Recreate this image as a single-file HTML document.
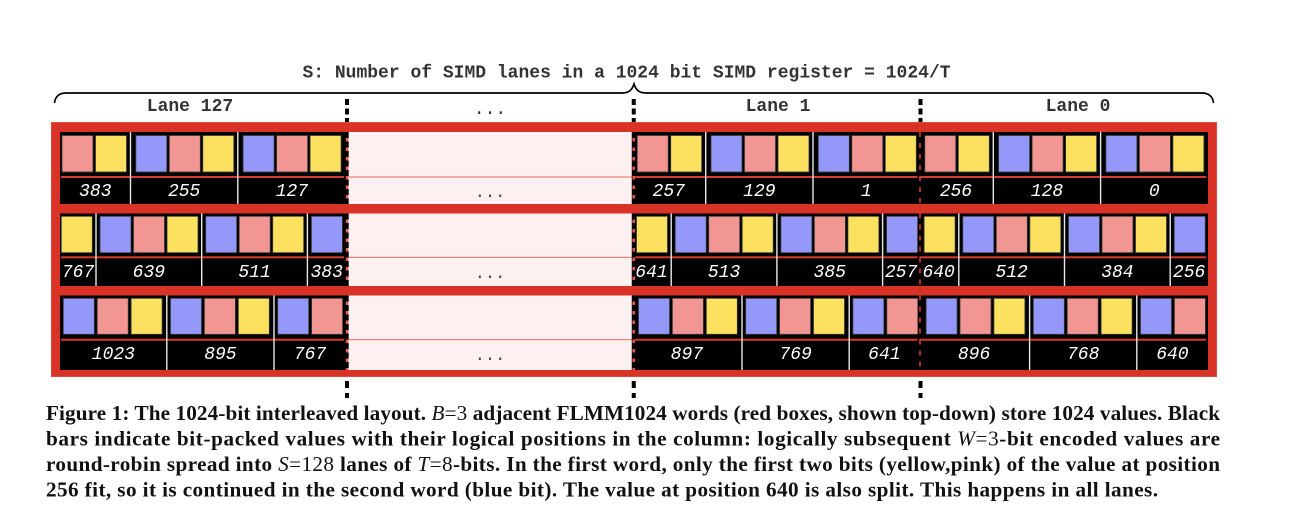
<!DOCTYPE html>
<html>
<head>
<meta charset="utf-8">
<style>
html,body{margin:0;padding:0;background:#fff;}
svg{display:block;}
.mono{font-family:"Liberation Mono",monospace;}
.cap{font-family:"Liberation Serif",serif;font-weight:bold;font-size:21.2px;fill:#111;}
.cap .m{font-style:italic;font-weight:normal;}
.cap .n{font-weight:normal;}
</style>
</head>
<body>
<svg id="fig" width="1313" height="511" viewBox="0 0 1313 511" xmlns="http://www.w3.org/2000/svg">
  <text class="mono" x="626.5" y="77.5" text-anchor="middle" font-size="18" font-weight="bold" fill="#333">S: Number of SIMD lanes in a 1024 bit SIMD register = 1024/T</text>
  <path d="M54.5 103 C55 97 59 93 66 93 L622 93 C629 93 632 90 634 84 C636 90 639 93 646 93 L1202 93 C1209 93 1213 97 1213.5 103" fill="none" stroke="#000" stroke-width="1.7"/>
  <text class="mono" x="190" y="111" text-anchor="middle" font-size="18" font-weight="bold" fill="#333">Lane 127</text>
  <text class="mono" x="490" y="114" text-anchor="middle" font-size="18" fill="#333">...</text>
  <text class="mono" x="778" y="111" text-anchor="middle" font-size="18" font-weight="bold" fill="#333">Lane 1</text>
  <text class="mono" x="1078" y="111" text-anchor="middle" font-size="18" font-weight="bold" fill="#333">Lane 0</text>
  <rect x="51.5" y="122.5" width="1165" height="254" fill="#d93226" stroke="#e2483e" stroke-width="1"/>
  <g id="rows"></g>
  <g id="dividers"></g>
  <g class="cap">
    <text x="46" y="420" textLength="1174" lengthAdjust="spacing">Figure 1: The 1024-bit interleaved layout. <tspan class="m">B</tspan><tspan class="n">=3</tspan> adjacent FLMM1024 words (red boxes, shown top-down) store 1024 values. Black</text>
    <text x="46" y="445.5" textLength="1174" lengthAdjust="spacing">bars indicate bit-packed values with their logical positions in the column: logically subsequent <tspan class="m">W</tspan><tspan class="n">=3</tspan>-bit encoded values are</text>
    <text x="46" y="471" textLength="1174" lengthAdjust="spacing">round-robin spread into <tspan class="m">S</tspan><tspan class="n">=128</tspan> lanes of <tspan class="m">T</tspan><tspan class="n">=8</tspan>-bits. In the first word, only the first two bits (yellow,pink) of the value at position</text>
    <text x="46" y="496.5" textLength="1112" lengthAdjust="spacing">256 fit, so it is continued in the second word (blue bit). The value at position 640 is also split. This happens in all lanes.</text>
  </g>
</svg>
<script>
const laneSlots = [0, 2, 3];
const row1Labels = [["383", "255", "127"], ["257", "129", "1"], ["256", "128", "0"]];
const row2Labels = [["767", "639", "511", "383"], ["641", "513", "385", "257"], ["640", "512", "384", "256"]];
const row3Labels = [["1023", "895", "767"], ["897", "769", "641"], ["896", "768", "640"]];
const row1Bits = ["py", "bpy", "bpy"];
const row2Bits = ["y", "bpy", "bpy", "b"];
const row3Bits = ["bpy", "bpy", "bp"];

const rowLabels = [row1Labels, row2Labels, row3Labels];
const rowBits = [row1Bits, row2Bits, row3Bits];
const NS = 'http://www.w3.org/2000/svg';
const bitFill = {p: '#f29694', y: '#fce060', b: '#9499f9'};
const bitName = {p: 'pink', y: 'yellow', b: 'blue'};
const rowGeom = [
  {top: 132, bottom: 204, line: 177, cellTop: 135.5, cellH: 36.5, text: 196, first: 2, pitch: 33.5, before: 4, after: 5.3},
  {top: 213.5, bottom: 286, line: 257.3, cellTop: 216.3, cellH: 36.4, text: 277, first: 1.3, pitch: 33.5, before: 3.7, after: 4},
  {top: 295.5, bottom: 370, line: 339.7, cellTop: 298.3, cellH: 36, text: 359, first: 3.3, pitch: 33.9, before: 4.7, after: 3.7}
];
const CELL_W = 31;
function slotX(s) { return 60 + s * 287.6; }
function boundaryX(i) { return 347 + (i - 1) * 286.75; }
function laneLeft(s) { return s === 0 ? 60 : boundaryX(s) - 2; }
function laneRight(s) { return s === 3 ? 1208 : boundaryX(s + 1) - 1; }
function mk(tag, attrs, parent) {
  const el = document.createElementNS(NS, tag);
  for (const k in attrs) el.setAttribute(k, attrs[k]);
  parent.appendChild(el);
  return el;
}
const rowsG = document.getElementById('rows');
rowGeom.forEach(function (g, r) {
  const word = mk('g', {}, rowsG);
  
  
  const gap = mk('rect', {x: boundaryX(1), y: g.top, width: boundaryX(2) - boundaryX(1), height: g.bottom - g.top, fill: '#fdf0f0'}, word);
  
  
  const gapLine = mk('rect', {x: boundaryX(1), y: g.line - 0.5, width: boundaryX(2) - boundaryX(1), height: 1, fill: '#ee6a64'}, word);
  
  
  const dots = mk('text', {x: 490, y: g.text + 1, 'text-anchor': 'middle', 'font-size': 17, fill: '#444', 'class': 'mono'}, word);
  
  
  dots.textContent = '...';
  laneSlots.forEach(function (slot, l) {
    const L = laneLeft(slot), R = laneRight(slot), O = slotX(slot);
    const black = mk('rect', {x: L, y: g.top, width: R - L, height: g.bottom - g.top, fill: '#000'}, word);
    
    
    const redLine = mk('rect', {x: L + 1, y: g.line - 1, width: R - L - 3, height: 2, fill: '#d93a30'}, word);
    
    
    let cursor = O + g.first, segStart = L;
    rowBits[r].forEach(function (bits, v) {
      for (let b = 0; b < bits.length; b++) {
        const cell = mk('rect', {x: cursor, y: g.cellTop, width: CELL_W, height: g.cellH, fill: bitFill[bits[b]], stroke: '#3a3a3a', 'stroke-width': 0.8}, word);
        
        
        cursor += g.pitch;
      }
      cursor += CELL_W - g.pitch;
      const isLast = v === rowBits[r].length - 1;
      const segEnd = isLast ? R : cursor + g.before;
      const label = mk('text', {x: (segStart + segEnd) / 2, y: g.text, 'text-anchor': 'middle', 'font-size': 18, 'font-style': 'italic', fill: '#fff', 'class': 'mono'}, word);
      
      
      label.textContent = rowLabels[r][l][v];
      if (!isLast) {
        const sep = mk('rect', {x: segEnd - 0.7, y: g.top, width: 1.4, height: g.bottom - g.top, fill: '#e8e8e8'}, word);
        
        
        cursor = segEnd + g.after;
        segStart = segEnd;
      }
    });
  });
});
const divG = document.getElementById('dividers');
[1, 2, 3].forEach(function (i) {
  const x = boundaryX(i);
  const d = document.createElementNS(NS, 'g');
  
  
  divG.appendChild(d);
  mk('line', {x1: x, x2: x, y1: 99, y2: 122, stroke: '#000', 'stroke-width': 4, 'stroke-dasharray': '6 3.5'}, d);
  mk('line', {x1: x, x2: x, y1: 381, y2: 398, stroke: '#000', 'stroke-width': 4, 'stroke-dasharray': '7 5'}, d);
  rowGeom.forEach(function (g) {
    if (i === 3) {
      mk('line', {x1: x - 0.5, x2: x - 0.5, y1: g.top, y2: g.bottom, stroke: '#d93a30', 'stroke-width': 1.6, 'stroke-dasharray': '5 6'}, d);
    } else {
      mk('line', {x1: x, x2: x, y1: g.top, y2: g.bottom, stroke: '#e9564c', 'stroke-width': 2.6}, d);
      mk('line', {x1: x, x2: x, y1: g.top, y2: g.bottom, stroke: '#000', 'stroke-width': 3.4, 'stroke-dasharray': '6 3.5'}, d);
    }
  });
});
</script>
</body>
</html>
